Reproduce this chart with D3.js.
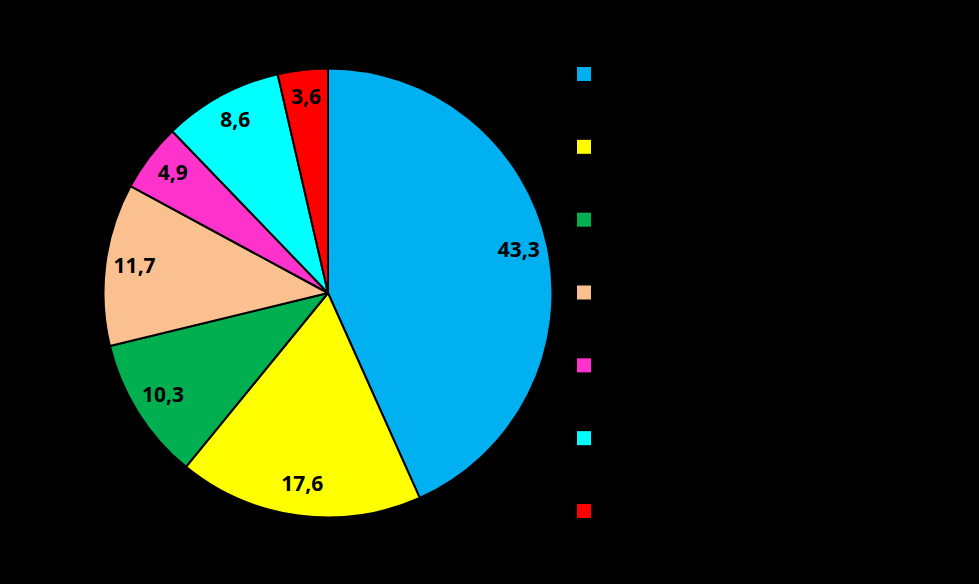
<!DOCTYPE html>
<html>
<head>
<meta charset="utf-8">
<script src="https://cdn.jsdelivr.net/npm/d3@7"></script>
<style>
html,body{margin:0;padding:0;background:#000;}
svg{display:block;}
</style>
</head>
<body>
<svg id="chart" width="979" height="584"></svg>
<script>
const categories = ["A","B","C","D","E","F","G"];
const values = [43.3, 17.6, 10.3, 11.7, 4.9, 8.6, 3.6];
const valueLabels = ["43,3","17,6","10,3","11,7","4,9","8,6","3,6"];
const colors = ["#00B0F0","#FFFF00","#00B050","#FAC090","#FF33CC","#00FFFF","#FF0000"];

const svg = d3.select("#chart");
svg.append("rect").attr("width",979).attr("height",584).attr("fill","#000");

const cx = 328, cy = 293, R = 224.5, labelR = 195;
const pie = d3.pie().sort(null).value(d => d.v);
const data = categories.map((c,i)=>({c, v: values[i], lab: valueLabels[i], col: colors[i]}));
const arcs = pie(data);
const arc = d3.arc().innerRadius(0).outerRadius(R);
const labelArc = d3.arc().innerRadius(labelR).outerRadius(labelR);

const g = svg.append("g").attr("transform",`translate(${cx},${cy})`);
g.selectAll("path").data(arcs).join("path")
  .attr("d", arc)
  .attr("fill", d => d.data.col)
  .attr("stroke", "#000")
  .attr("stroke-width", 2)
  .attr("stroke-linejoin","round");

g.selectAll("text").data(arcs).join("text")
  .attr("transform", d => { const p = labelArc.centroid(d); return `translate(${p[0]},${p[1]-3})`; })
  .attr("text-anchor","middle")
  .attr("dominant-baseline","central")
  .attr("font-family","'Open Sans', 'Liberation Sans', sans-serif")
  .attr("font-weight","bold")
  .attr("font-size", 21)
  .attr("fill","#000")
  .text(d => d.data.lab);

// legend
const ly = d3.scalePoint().domain(categories).range([74, 511]);
const lg = svg.append("g");
lg.selectAll("rect").data(data).join("rect")
  .attr("x", 577)
  .attr("y", d => ly(d.c) - 7)
  .attr("width", 14).attr("height", 14)
  .attr("fill", d => d.col);
</script>
</body>
</html>
